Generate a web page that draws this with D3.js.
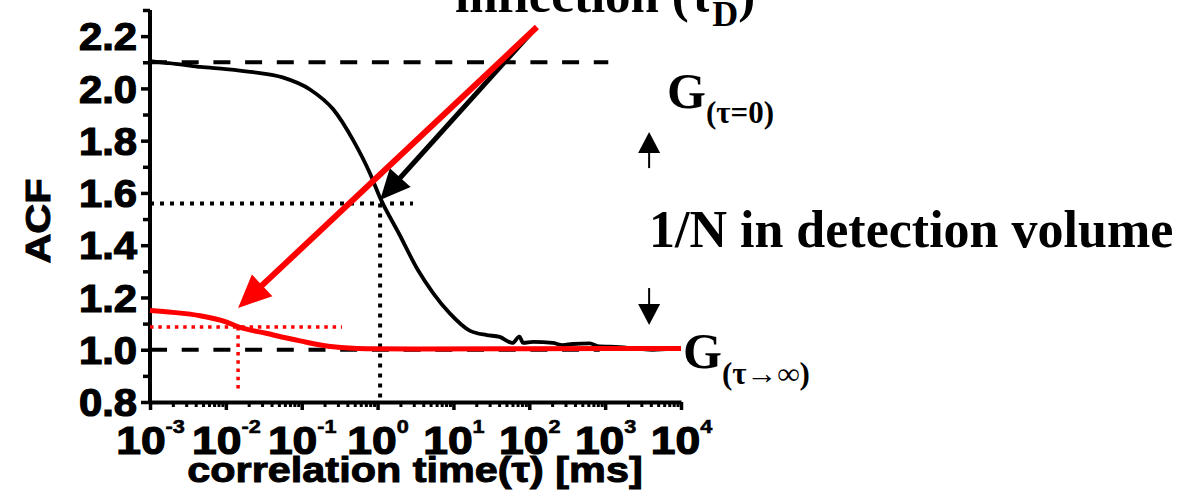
<!DOCTYPE html>
<html>
<head>
<meta charset="utf-8">
<script src="https://cdn.jsdelivr.net/npm/d3@7"></script>
<style>
  body { margin: 0; background: #fff; }
</style>
</head>
<body>
<div id="chart"></div>
<script>
// ACF curves (tau in ms)
const blackTau = [0.001, 0.0016, 0.0025, 0.0046, 0.01, 0.023, 0.056, 0.13, 0.26, 0.48, 0.79, 1.07, 1.95, 3.4, 5.4, 8.9, 16.6, 27.5, 40.7, 60, 74, 83, 112, 204, 275, 372, 630, 794, 1550, 2820, 4260, 7240, 10000];
const blackG   = [2.104, 2.098, 2.092, 2.082, 2.074, 2.062, 2.042, 1.995, 1.92, 1.80, 1.676, 1.584, 1.44, 1.305, 1.217, 1.14, 1.072, 1.056, 1.049, 1.026, 1.05, 1.026, 1.03, 1.026, 1.018, 1.022, 1.024, 1.014, 1.01, 1.003, 1.0, 1.003, 1.002];
const redTau = [0.001, 0.002, 0.0046, 0.01, 0.0145, 0.035, 0.095, 0.26, 0.71, 3.2, 100, 10000];
const redG   = [1.15, 1.143, 1.13, 1.107, 1.088, 1.062, 1.034, 1.011, 1.004, 1.003, 1.004, 1.005];

// axis ticks
const xMajor = [1e-3, 1e-2, 1e-1, 1e0, 1e1, 1e2, 1e3, 1e4];
const xExp = ["-3", "-2", "-1", "0", "1", "2", "3", "4"];
const xMinorMult = [2, 3, 4, 5, 6, 7, 8, 9];
const yMajor = [0.8, 1.0, 1.2, 1.4, 1.6, 1.8, 2.0, 2.2];
const yMinor = [0.9, 1.1, 1.3, 1.5, 1.7, 1.9, 2.1, 2.3];

// reference lines: [tau start, tau end, G]
const gZeroLine = [0.001, 1100, 2.1];
const gInfLine = [0.001, 850, 1.0];
// inflection markers: [tau, G, tau end of horizontal, G end of vertical]
const blackInfl = [1.08, 1.56, 2.93, 0.8];
const redInfl = [0.0145, 1.087, 0.34, 0.834];

// arrows: [tail, tip] as [tau, G]
const redArrow = [[126, 2.235], [0.0145, 1.16]];
const blackArrow = [[105, 2.212], [1.08, 1.573]];
const upArrow = [[3800, 1.695], [3800, 1.833]];
const downArrow = [[3800, 1.236], [3800, 1.095]];

var width = 1196, height = 493;
const sans = "'Liberation Sans', Arial, sans-serif";
const serif = "'Liberation Serif', 'Times New Roman', serif";

const svg = d3.select('#chart').append('svg')
  .attr('width', width)
  .attr('height', height)
  .style('background', '#fff');

const x = d3.scaleLog().domain([1e-3, 1e4]).range([150, 681]);
const y = d3.scaleLinear().domain([0.8, 2.3]).range([402, 10]);

// minor ticks
var xMinor = [];
xMajor.slice(0, -1).forEach(d => xMinorMult.forEach(k => xMinor.push(d * k)));

svg.append('g')
  .attr('transform', 'translate(0,402)')
  .call(d3.axisBottom(x).tickValues(xMinor).tickSize(5).tickSizeOuter(0).tickFormat(''))
  .call(g => g.select('.domain').remove())
  .call(g => g.selectAll('line').attr('stroke', '#000').attr('stroke-width', 3));

svg.append('g')
  .attr('transform', 'translate(150,0)')
  .call(d3.axisLeft(y).tickValues(yMinor).tickSize(7).tickSizeOuter(0).tickFormat(''))
  .call(g => g.select('.domain').remove())
  .call(g => g.selectAll('line').attr('stroke', '#000').attr('stroke-width', 3.5));

// major x axis
const gx = svg.append('g')
  .attr('transform', 'translate(0,402)')
  .call(d3.axisBottom(x).tickValues(xMajor).tickSize(8).tickSizeOuter(0));
gx.select('.domain').attr('stroke-width', 4);
gx.selectAll('line').attr('stroke-width', 3.5);
gx.selectAll('.tick text')
  .text(null)
  .attr('y', 52).attr('dy', 0)
  .attr('transform', 'scale(1.14,1)')
  .attr('font-family', sans).attr('font-weight', 'bold').attr('font-size', 39)
  .attr('fill', '#000').attr('stroke', '#000').attr('stroke-width', 1.2)
  .each(function (d, i) {
    const t = d3.select(this);
    t.append('tspan').text('10');
    t.append('tspan').attr('dy', -21).attr('font-size', 19).attr('stroke-width', 0.6).text(xExp[i]);
  });

// major y axis
const gy = svg.append('g')
  .attr('transform', 'translate(150,0)')
  .call(d3.axisLeft(y).tickValues(yMajor).tickSize(9).tickSizeOuter(0).tickFormat(d3.format('.1f')));
gy.select('.domain').attr('stroke-width', 4)
  .attr('d', `M0,${y(2.3)}V${y(0.8) + 2}`);
gy.selectAll('line').attr('stroke-width', 3.5);
gy.selectAll('.tick text')
  .attr('x', 0).attr('dy', '0.36em')
  .attr('transform', 'translate(-13,0) scale(1.1,1)')
  .attr('font-family', sans).attr('font-weight', 'bold').attr('font-size', 38)
  .attr('fill', '#000').attr('stroke', '#000').attr('stroke-width', 1.2);

// axis titles
svg.append('text')
  .attr('transform', 'translate(415,482) scale(1.15,1)')
  .attr('text-anchor', 'middle')
  .attr('font-family', sans).attr('font-weight', 'bold').attr('font-size', 36)
  .attr('stroke', '#000').attr('stroke-width', 1)
  .text('correlation time(τ) [ms]');

svg.append('text')
  .attr('transform', 'translate(50,221) rotate(-90) scale(1.15,1)')
  .attr('text-anchor', 'middle')
  .attr('font-family', sans).attr('font-weight', 'bold').attr('font-size', 36)
  .attr('stroke', '#000').attr('stroke-width', 1)
  .text('ACF');

// dashed reference lines
[gZeroLine, gInfLine].forEach(l => {
  svg.append('line')
    .attr('x1', x(l[0])).attr('x2', x(l[1]))
    .attr('y1', y(l[2])).attr('y2', y(l[2]))
    .attr('stroke', '#000').attr('stroke-width', 4)
    .attr('stroke-dasharray', '17,14.7');
});

// dotted inflection markers
function dotted(m, color, dash, w) {
  svg.append('line')
    .attr('x1', x(0.001)).attr('x2', x(m[2]))
    .attr('y1', y(m[1])).attr('y2', y(m[1]))
    .attr('stroke', color).attr('stroke-width', w).attr('stroke-dasharray', dash);
  svg.append('line')
    .attr('x1', x(m[0])).attr('x2', x(m[0]))
    .attr('y1', y(m[1])).attr('y2', y(m[3]))
    .attr('stroke', color).attr('stroke-width', w).attr('stroke-dasharray', dash);
}
dotted(blackInfl, '#000', '4,6', 4);
dotted(redInfl, '#ff0000', '3.5,4.8', 3.5);

// curves
const line = d3.line()
  .x(d => x(d[0]))
  .y(d => y(d[1]))
  .curve(d3.curveMonotoneX);

svg.append('path')
  .datum(blackTau.map((t, i) => [t, blackG[i]]))
  .attr('d', line)
  .attr('fill', 'none').attr('stroke', '#000').attr('stroke-width', 3.8);

svg.append('path')
  .datum(redTau.map((t, i) => [t, redG[i]]))
  .attr('d', line)
  .attr('fill', 'none').attr('stroke', '#ff0000').attr('stroke-width', 5);

// arrows
function arrow(a, color, w, len, half) {
  const x1 = x(a[0][0]), y1 = y(a[0][1]);
  const x2 = x(a[1][0]), y2 = y(a[1][1]);
  const dx = x2 - x1, dy = y2 - y1;
  const L = Math.sqrt(dx * dx + dy * dy);
  const ux = dx / L, uy = dy / L;
  const bx = x2 - ux * len, by = y2 - uy * len;
  svg.append('line')
    .attr('x1', x1).attr('y1', y1).attr('x2', bx + ux * 2).attr('y2', by + uy * 2)
    .attr('stroke', color).attr('stroke-width', w);
  svg.append('path')
    .attr('d', `M${x2},${y2}L${bx - uy * half},${by + ux * half}L${bx + uy * half},${by - ux * half}Z`)
    .attr('fill', color);
}
arrow(blackArrow, '#000', 5, 30, 14);
arrow(redArrow, '#ff0000', 6, 33, 15);
arrow(upArrow, '#000', 2, 21, 11);
arrow(downArrow, '#000', 2, 21, 11);

// annotations
const t1 = svg.append('text')
  .attr('x', 455).attr('y', 12)
  .attr('font-family', serif).attr('font-weight', 'bold').attr('font-size', 51);
t1.append('tspan').text('inflection (τ');
t1.append('tspan').attr('dy', 14).attr('font-size', 36).text('D');
t1.append('tspan').attr('dy', -14).text(')');

const t2 = svg.append('text')
  .attr('x', 667).attr('y', 108)
  .attr('font-family', serif).attr('font-weight', 'bold').attr('font-size', 50);
t2.append('tspan').text('G');
t2.append('tspan').attr('dy', 15).attr('font-size', 31).text('(τ=0)');

svg.append('text')
  .attr('x', 649).attr('y', 247)
  .attr('font-family', serif).attr('font-weight', 'bold').attr('font-size', 52)
  .text('1/N in detection volume');

const t3 = svg.append('text')
  .attr('x', 683).attr('y', 368)
  .attr('font-family', serif).attr('font-weight', 'bold').attr('font-size', 50);
t3.append('tspan').text('G');
t3.append('tspan').attr('dy', 16).attr('font-size', 31).text('(τ→∞)');
</script>
</body>
</html>
